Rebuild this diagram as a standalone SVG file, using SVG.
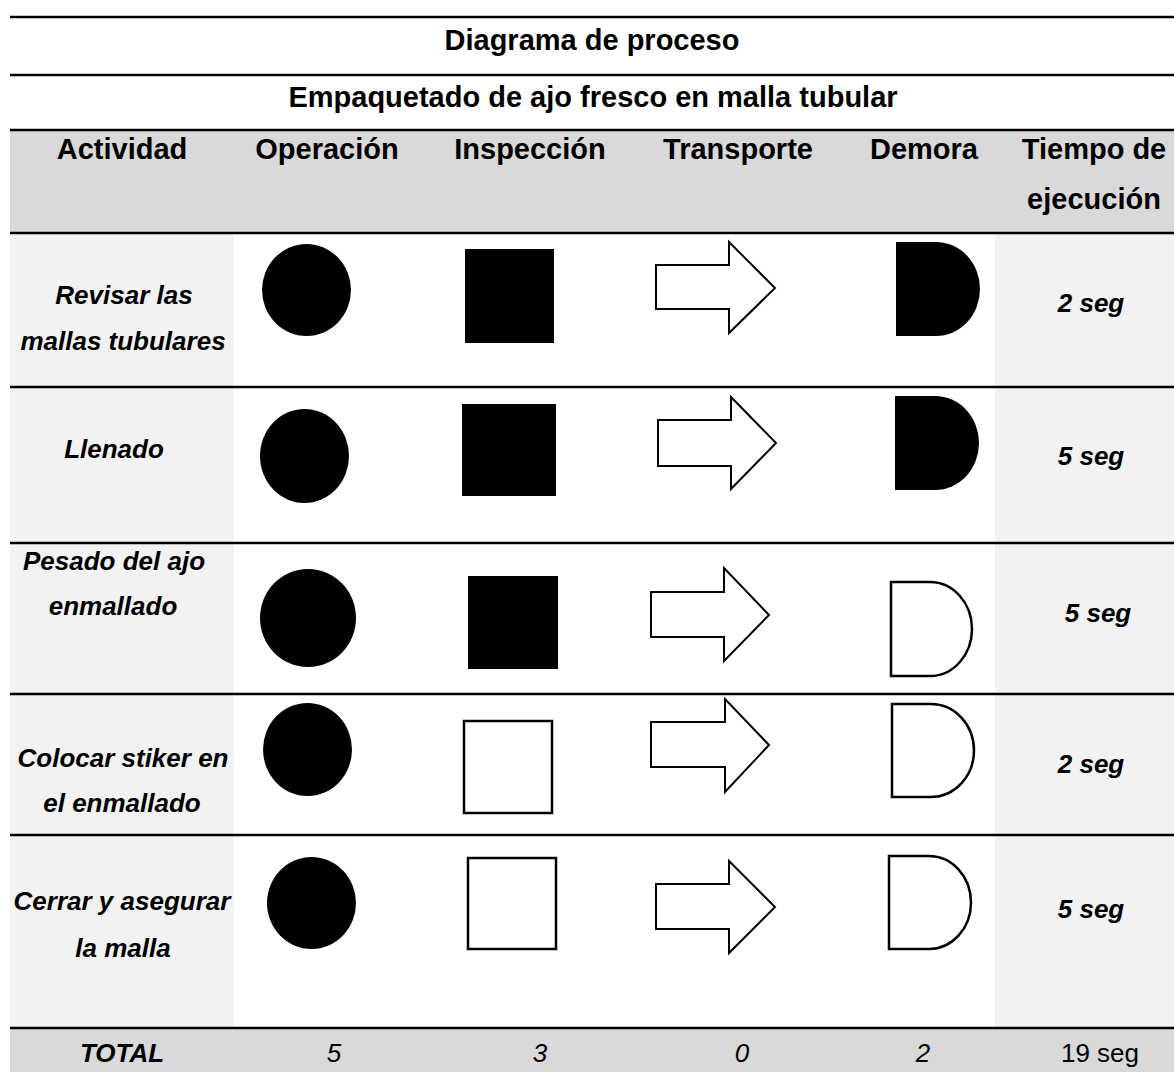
<svg xmlns="http://www.w3.org/2000/svg" width="1174" height="1072" viewBox="0 0 1174 1072">
<style>
.bg{fill:#ffffff}
.hdr{fill:#d9d9d9}
.col{fill:#f2f2f2}
.rule{stroke:#000;stroke-width:2.6;fill:none}
.t{font-family:"Liberation Sans",Arial,sans-serif;fill:#000;text-anchor:middle}
.ttl{font-size:29px;font-weight:bold}
.lbl{font-size:26px;font-weight:bold;font-style:italic}
.num{font-size:26px;font-style:italic}
.reg{font-size:26px}
.fill{fill:#000}
.open{fill:#fff;stroke:#000;stroke-width:2.5}
.arr{fill:#fff;stroke:#000;stroke-width:2;stroke-linejoin:miter}
</style>
<rect class="bg" x="0" y="0" width="1174" height="1072"/>
<g id="backgrounds">
<rect class="hdr" x="10" y="131" width="1164" height="102"/>
<rect class="col" x="10" y="233" width="224" height="795"/>
<rect class="col" x="995" y="233" width="179" height="795"/>
<rect class="hdr" x="10" y="1028" width="1164" height="44"/>
</g>
<g id="title">
<text class="t ttl" x="592" y="50">Diagrama de proceso</text>
<text class="t ttl" x="593" y="107">Empaquetado de ajo fresco en malla tubular</text>
</g>
<g id="header">
<text class="t ttl" x="122" y="159">Actividad</text>
<text class="t ttl" x="327" y="159">Operación</text>
<text class="t ttl" x="530" y="159">Inspección</text>
<text class="t ttl" x="738" y="159">Transporte</text>
<text class="t ttl" x="924" y="159">Demora</text>
<text class="t ttl" x="1094" y="159">Tiempo de</text>
<text class="t ttl" x="1094" y="209">ejecución</text>
</g>
<g id="rules">
<line class="rule" x1="10" y1="17" x2="1174" y2="17"/>
<line class="rule" x1="10" y1="75" x2="1174" y2="75"/>
<line class="rule" x1="10" y1="130" x2="1174" y2="130"/>
<line class="rule" x1="10" y1="233" x2="1174" y2="233"/>
<line class="rule" x1="10" y1="387" x2="1174" y2="387"/>
<line class="rule" x1="10" y1="543" x2="1174" y2="543"/>
<line class="rule" x1="10" y1="694" x2="1174" y2="694"/>
<line class="rule" x1="10" y1="835" x2="1174" y2="835"/>
<line class="rule" x1="10" y1="1028" x2="1174" y2="1028"/>
</g>
<g id="row1">
<text class="t lbl" x="124" y="304">Revisar las</text>
<text class="t lbl" x="123" y="350">mallas tubulares</text>
<ellipse class="fill" cx="306.5" cy="290" rx="44.5" ry="46"/>
<rect class="fill" x="465" y="249" width="89" height="94"/>
<polygon class="arr" points="656,265 729,265 729,242 775,288 729,333 729,309 656,309"/>
<path class="fill" d="M896,242 H936 A44,47 0 0 1 936,336 H896 Z"/>
<text class="t lbl" x="1091" y="312">2 seg</text>
</g>
<g id="row2">
<text class="t lbl" x="114" y="458">Llenado</text>
<ellipse class="fill" cx="304.5" cy="456" rx="44.5" ry="47"/>
<rect class="fill" x="462" y="404" width="94" height="92"/>
<polygon class="arr" points="658,420 731,420 731,397 776,443 731,489 731,466 658,466"/>
<path class="fill" d="M895,396 H935 A44,47 0 0 1 935,490 H895 Z"/>
<text class="t lbl" x="1091" y="465">5 seg</text>
</g>
<g id="row3">
<text class="t lbl" x="114" y="570">Pesado del ajo</text>
<text class="t lbl" x="113" y="615">enmallado</text>
<ellipse class="fill" cx="308" cy="618" rx="48" ry="49"/>
<rect class="fill" x="468" y="576" width="90" height="93"/>
<polygon class="arr" points="651,592 724,592 724,568 769,615 724,661 724,637 651,637"/>
<path class="open" d="M891,582 H930 A42,47 0 0 1 930,676 H891 Z"/>
<text class="t lbl" x="1098" y="622">5 seg</text>
</g>
<g id="row4">
<text class="t lbl" x="123" y="767">Colocar stiker en</text>
<text class="t lbl" x="122" y="812">el enmallado</text>
<ellipse class="fill" cx="307.5" cy="749.5" rx="44.5" ry="46.5"/>
<rect class="open" x="464" y="721" width="88" height="92"/>
<polygon class="arr" points="651,722 725,722 725,699 769,745 725,792 725,767 651,767"/>
<path class="open" d="M892,704 H931 A43,46.5 0 0 1 931,797 H892 Z"/>
<text class="t lbl" x="1091" y="773">2 seg</text>
</g>
<g id="row5">
<text class="t lbl" x="122" y="910">Cerrar y asegurar</text>
<text class="t lbl" x="123" y="957">la malla</text>
<ellipse class="fill" cx="311.5" cy="903" rx="44.5" ry="46"/>
<rect class="open" x="468" y="858" width="88" height="91"/>
<polygon class="arr" points="656,884 729,884 729,861 775,907 729,953 729,929 656,929"/>
<path class="open" d="M889,856 H929 A42,46.5 0 0 1 929,949 H889 Z"/>
<text class="t lbl" x="1091" y="918">5 seg</text>
</g>
<g id="total">
<text class="t lbl" x="122" y="1062">TOTAL</text>
<text class="t num" x="334" y="1062">5</text>
<text class="t num" x="540" y="1062">3</text>
<text class="t num" x="742" y="1062">0</text>
<text class="t num" x="923" y="1062">2</text>
<text class="t reg" x="1100" y="1062">19 seg</text>
</g>
</svg>
